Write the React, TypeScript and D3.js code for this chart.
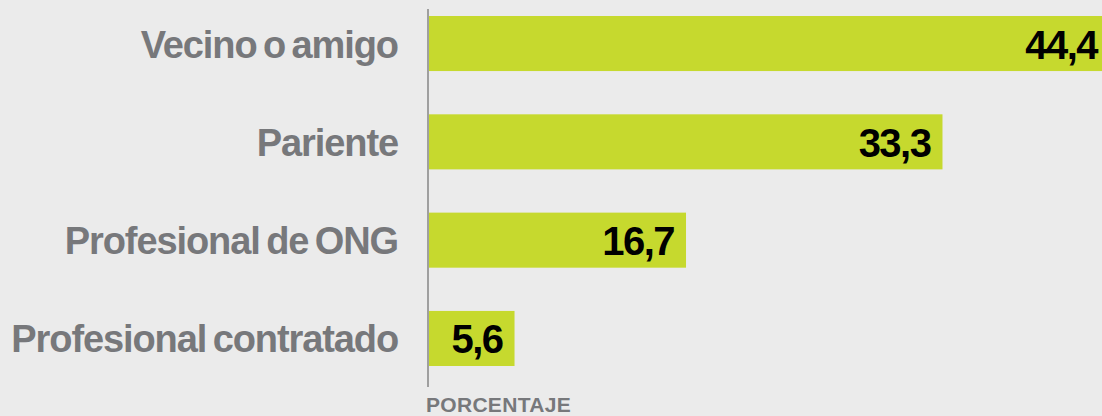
import { useEffect, useRef } from 'react';
import * as d3 from 'd3';

const categories = ['Vecino o amigo', 'Pariente', 'Profesional de ONG', 'Profesional contratado'];
const values = [44.4, 33.3, 16.7, 5.6];
const axisTitle = 'PORCENTAJE';

const width = 1102;
const height = 416;

export default function App() {
  const svgRef = useRef<SVGSVGElement>(null);

  useEffect(() => {
    const svg = d3.select(svgRef.current);
    svg.selectAll('*').remove();

    const x = d3.scaleLinear().domain([0, 10]).range([428, 428 + 154.5]);
    const y = d3.scaleBand<string>()
      .domain(categories)
      .range([16, 366])
      .paddingInner(0.44)
      .paddingOuter(0);

    const data = categories.map((c, i) => ({ c, v: values[i] }));

    svg.append('rect')
      .attr('width', width)
      .attr('height', height)
      .attr('fill', '#ebebeb');

    // bars
    svg.append('g')
      .selectAll('rect')
      .data(data)
      .enter().append('rect')
      .attr('x', x(0) + 1)
      .attr('y', d => y(d.c)!)
      .attr('width', d => x(d.v) - x(0) - 1)
      .attr('height', y.bandwidth())
      .attr('fill', '#c6d92e');

    // axis line
    svg.append('line')
      .attr('x1', x(0)).attr('x2', x(0))
      .attr('y1', 9).attr('y2', 387)
      .attr('stroke', '#8c8c8c')
      .attr('stroke-width', 1.6);

    // category labels
    svg.append('g')
      .selectAll('text')
      .data(data)
      .enter().append('text')
      .attr('x', 398)
      .attr('y', d => y(d.c)! + y.bandwidth() / 2 + 14)
      .attr('text-anchor', 'end')
      .style('font-family', '"Liberation Sans", Arial, sans-serif')
      .style('font-size', '38px')
      .style('font-weight', 'bold')
      .style('letter-spacing', '-1.1px')
      .style('word-spacing', '-3px')
      .attr('fill', '#77787b')
      .text(d => d.c);

    // value labels
    svg.append('g')
      .selectAll('text')
      .data(data)
      .enter().append('text')
      .attr('x', d => Math.min(x(d.v) - 12, width - 5))
      .attr('y', d => y(d.c)! + y.bandwidth() / 2 + 15)
      .attr('text-anchor', 'end')
      .style('font-family', '"Liberation Sans", Arial, sans-serif')
      .style('font-size', '40px')
      .style('font-weight', 'bold')
      .style('letter-spacing', '-1.5px')
      .attr('fill', '#000')
      .text(d => d3.format('.1f')(d.v).replace('.', ','));

    svg.append('text')
      .attr('x', 426)
      .attr('y', 412)
      .style('font-family', '"Liberation Sans", Arial, sans-serif')
      .style('font-size', '21px')
      .style('font-weight', 'bold')
      .style('letter-spacing', '0.3px')
      .attr('fill', '#77787b')
      .text(axisTitle);
  }, []);

  return (
    <div style={{ position: 'fixed', left: 0, top: 0, width, height, background: '#ebebeb' }}>
      <svg ref={svgRef} width={width} height={height} style={{ display: 'block' }}></svg>
    </div>
  );
}
